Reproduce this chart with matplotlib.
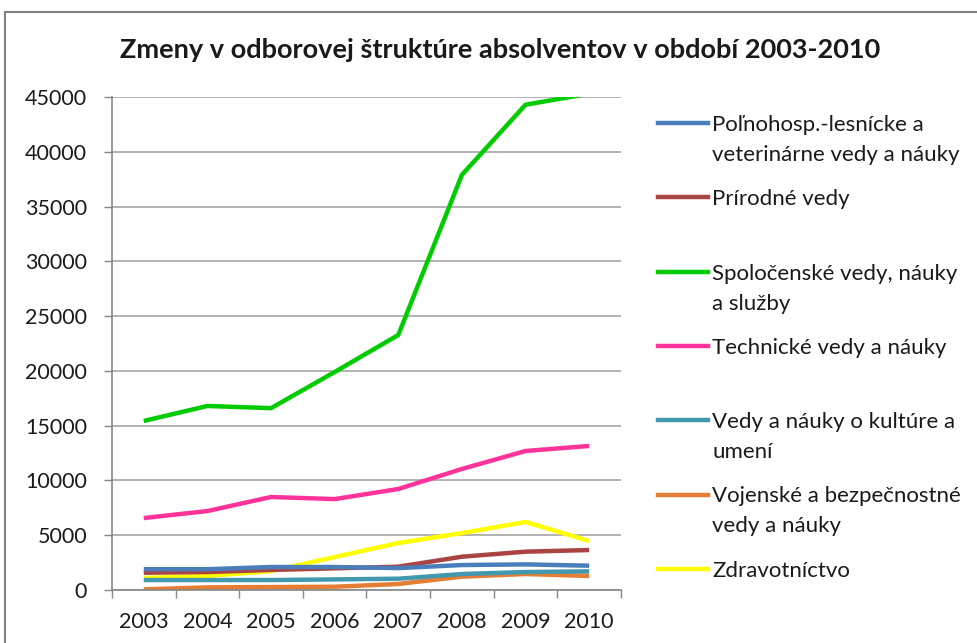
import matplotlib
matplotlib.use('Agg')
from matplotlib import pyplot as plt
from matplotlib.lines import Line2D
from matplotlib.patches import Rectangle

plt.rcParams['font.family'] = ['Lato', 'DejaVu Sans']

# roky a pocty absolventov podla odborov
roky = ['2003', '2004', '2005', '2006', '2007', '2008', '2009', '2010']
polnohosp = [1900, 1900, 2100, 2100, 2000, 2280, 2340, 2220]
prirodne = [1580, 1640, 1830, 1980, 2130, 3040, 3500, 3650]
spolocenske = [15430, 16800, 16600, 19900, 23280, 37900, 44300, 45300]
technicke = [6570, 7210, 8490, 8300, 9220, 11050, 12690, 13150]
kultura = [910, 910, 910, 970, 1030, 1460, 1640, 1700]
vojenske = [60, 240, 270, 300, 550, 1220, 1460, 1280]
zdravotnictvo = [1100, 1280, 1730, 3010, 4290, 5200, 6210, 4470]

nazvy = ['Poľnohosp.-lesnícke a\nveterinárne vedy a náuky',
         'Prírodné vedy',
         'Spoločenské vedy, náuky\na služby',
         'Technické vedy a náuky',
         'Vedy a náuky o kultúre a\numení',
         'Vojenské a bezpečnostné\nvedy a náuky',
         'Zdravotníctvo']
serie = [polnohosp, prirodne, spolocenske, technicke, kultura, vojenske, zdravotnictvo]
farby = ['#4A7EBB', '#A94442', '#00CC00', '#FF3399', '#4198AF', '#E57E34', '#FFFF00']

fig = plt.figure(figsize=(9.77, 6.43), dpi=100)
ax = fig.add_axes([0.1146, 0.0824, 0.5210, 0.7667])

# ramik okolo grafu
fig.patches.append(Rectangle((5 / 977, -0.1), 1.1, 1 - 12 / 643 + 0.1,
                             transform=fig.transFigure, fill=False,
                             edgecolor='#7F7F7F', linewidth=1.5))

x = list(range(len(roky)))
# kreslenie od posledneho, aby modra bola navrchu
for hodnoty, farba in reversed(list(zip(serie, farby))):
    ax.plot(x, hodnoty, color=farba, linewidth=3.2, solid_capstyle='butt',
            solid_joinstyle='round')

ax.set_xlim(-0.5, len(roky) - 0.5)
ax.set_ylim(0, 45000)
ax.set_yticks(range(0, 45001, 5000))
ax.set_xticks(x)
ax.set_xticklabels(roky)
ax.set_xticks([i + 0.5 for i in range(-1, len(roky))], minor=True)
ax.tick_params(axis='x', which='major', length=0, pad=16, labelsize=15.5, labelcolor='#1A1A1A')
ax.tick_params(axis='x', which='minor', length=6, color='#868686', width=1)
ax.tick_params(axis='y', length=6, color='#868686', width=1, pad=12,
               labelsize=15.5, labelcolor='#1A1A1A')
ax.grid(axis='y', color='#A6A6A6', linewidth=1.2)
ax.set_axisbelow(True)
for s in ['top', 'right']:
    ax.spines[s].set_visible(False)
for s in ['left', 'bottom']:
    ax.spines[s].set_color('#868686')
    ax.spines[s].set_linewidth(1.2)

fig.text(0.512, 1 - 50 / 643, 'Zmeny v odborovej štruktúre absolventov v období 2003-2010',
         ha='center', va='center', fontsize=19.5, fontweight='bold', color='#1A1A1A')

# legenda
for i, (nazov, farba) in enumerate(zip(nazvy, farby)):
    y = 1 - (123 + i * 74.3) / 643
    fig.add_artist(Line2D([658 / 977, 708 / 977], [y, y], color=farba, linewidth=3.2,
                          transform=fig.transFigure))
    for k, riadok in enumerate(nazov.split('\n')):
        fig.text(712 / 977, y - k * 30 / 643, riadok, ha='left', va='center_baseline',
                 fontsize=16, color='#1A1A1A')

fig.savefig('out.png', dpi=100)
